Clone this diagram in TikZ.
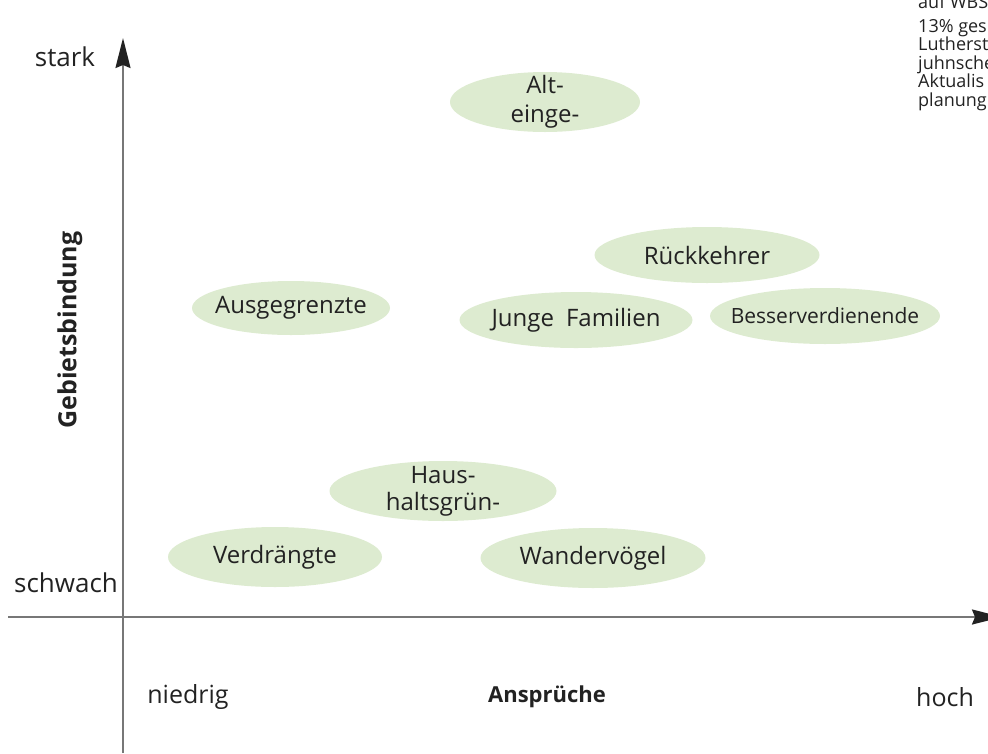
\documentclass[tikz,border=0pt]{standalone}
\usepackage{fontspec}
\setmainfont{Open Sans}
\usetikzlibrary{shapes.geometric,arrows.meta}
\definecolor{axisgray}{HTML}{777777}
\definecolor{blobgreen}{HTML}{DDEBD0}
\definecolor{txt}{HTML}{222222}
\tikzset{
  blob/.style={ellipse, fill=blobgreen, draw=none, inner sep=0pt},
  blobtext/.style={inner sep=0pt, text=txt, align=center, font=\fontsize{24}{29}\selectfont},
  axislabel/.style={text=txt, font=\fontsize{25}{29}\selectfont, inner sep=0pt},
  notetext/.style={text=txt, font=\fontsize{18}{19}\selectfont, inner sep=0pt, anchor=base west},
  axisline/.style={draw=axisgray, line width=2pt}
}
\begin{document}
\begin{tikzpicture}[x=1pt,y=-1pt]
\clip (0,0) rectangle (988,753);
\useasboundingbox (0,0) rectangle (988,753);
% axes
\coordinate (ybot) at (123,753);
\coordinate (ytop) at (123,38);
\coordinate (xleft) at (8,617);
\coordinate (xright) at (1002,617);
\draw[axisline, -{Stealth[length=30pt,width=15pt,inset=3pt,color=txt]}] (ybot) -- (ytop);
\draw[axisline, -{Stealth[length=30pt,width=15pt,inset=3pt,color=txt]}] (xleft) -- (xright);
% axis labels
\node[axislabel, font=\fontsize{26}{29}\selectfont] (stark) at (65,57) {stark};
\node[axislabel, font=\fontsize{26}{29}\selectfont] (schwach) at (66,583) {schwach};
\node[axislabel] (niedrig) at (188,697) {niedrig};
\node[axislabel, font=\fontsize{22}{26}\selectfont\bfseries] (anspr) at (547,697) {Ansprüche};
\node[axislabel] (hoch) at (945,697) {hoch};
\node[axislabel, font=\fontsize{25}{29}\selectfont\bfseries, rotate=90] (gb) at (70,330) {Gebietsbindung};
% groups
\node[blob, minimum width=190pt, minimum height=60pt] (alt) at (545,102) {};
\node[blobtext] (altT) at (alt.center) {Alt-\\einge-};
\node[blob, minimum width=225pt, minimum height=56pt] (rueck) at (707,255) {};
\node[blobtext] (rueckT) at (rueck.center) {Rückkehrer};
\node[blob, minimum width=198pt, minimum height=54pt] (ausg) at (291,308) {};
\node[blobtext] (ausgT) at (ausg.center) {Ausgegrenzte};
\node[blob, minimum width=233pt, minimum height=56pt] (junge) at (576,320) {};
\node[blobtext] (jungeT) at (junge.center) {Junge\enspace Familien};
\node[blob, minimum width=230pt, minimum height=56pt] (besser) at (825,316) {};
\node[blobtext, font=\fontsize{21}{25}\selectfont] (besserT) at (besser.center) {Besserverdienende};
\node[blob, minimum width=227pt, minimum height=60pt] (haus) at (443,491) {};
\node[blobtext, font=\fontsize{24}{27}\selectfont] (hausT) at (haus.center) {Haus-\\haltsgrün-};
\node[blob, minimum width=214pt, minimum height=60pt] (verdr) at (275,557) {};
\node[blobtext] (verdrT) at (verdr.center) {Verdrängte};
\node[blob, minimum width=225pt, minimum height=60pt] (wander) at (593,558) {};
\node[blobtext] (wanderT) at (wander.center) {Wandervögel};
% clipped note at top right
\node[notetext] (n1) at (918,8) {auf WBS};
\node[notetext] (n2) at (918,32) {13\% ges};
\node[notetext] (n3) at (918,50) {Lutherst};
\node[notetext] (n4) at (918,69) {juhnsche};
\node[notetext] (n5) at (918,87) {Aktualis};
\node[notetext] (n6) at (918,106) {planung};
\end{tikzpicture}
\end{document}
